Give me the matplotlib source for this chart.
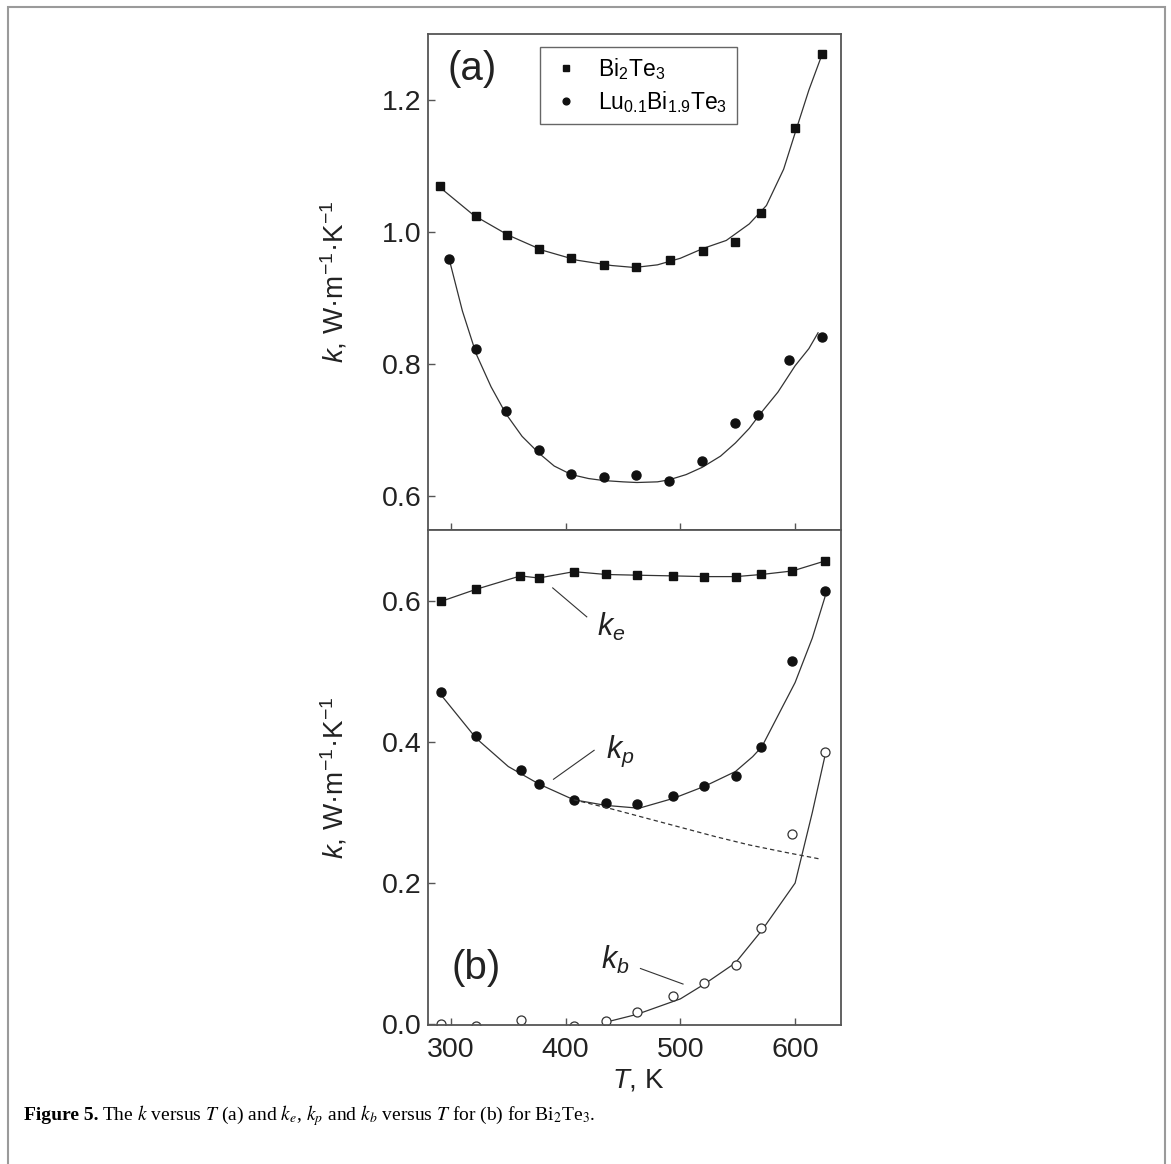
import matplotlib
matplotlib.use("Agg")
import matplotlib.pyplot as plt
from matplotlib.patches import Rectangle
from matplotlib.ticker import FormatStrFormatter


# Panel (a): total thermal conductivity k(T)
temp_bi2te3 = [290.3, 321.9, 348.7, 376.5, 404.8, 433.5, 461.6, 490.6, 519.4, 547.7, 570.6, 600.0, 623.2]
k_bi2te3 = [1.070, 1.024, 0.996, 0.974, 0.960, 0.950, 0.947, 0.958, 0.971, 0.985, 1.029, 1.158, 1.269]
temp_lu = [298.7, 321.9, 348.4, 376.8, 404.8, 433.2, 461.3, 490.3, 518.7, 547.7, 567.7, 594.8, 623.2]
k_lu = [0.959, 0.823, 0.729, 0.669, 0.633, 0.629, 0.631, 0.623, 0.653, 0.710, 0.722, 0.805, 0.840]

# fitted curves of panel (a)
fit_temp_bi2te3 = [290, 320, 350, 380, 410, 440, 460, 480, 500, 520, 540, 560, 575, 590, 600, 612, 622]
fit_k_bi2te3 = [1.068, 1.025, 0.995, 0.972, 0.957, 0.949, 0.946, 0.950, 0.960, 0.975, 0.987,
                1.012, 1.040, 1.095, 1.150, 1.215, 1.262]
fit_temp_lu = [299, 310, 322, 335, 348, 362, 377, 390, 405, 420, 433, 450, 462, 480, 490, 505,
               519, 535, 548, 560, 570, 585, 600, 612, 620]
fit_k_lu = [0.955, 0.880, 0.815, 0.765, 0.724, 0.690, 0.664, 0.645, 0.632, 0.626, 0.623, 0.621,
            0.620, 0.621, 0.624, 0.632, 0.643, 0.660, 0.680, 0.702, 0.725, 0.757, 0.797, 0.823, 0.847]

# Panel (b): electronic, phonon and bipolar parts
temp_ke = [291.6, 321.9, 360.6, 376.5, 407.1, 435.2, 462.3, 493.9, 521.0, 548.4, 570.6, 597.7, 625.8]
k_e = [0.599, 0.616, 0.635, 0.632, 0.641, 0.637, 0.636, 0.635, 0.634, 0.634, 0.637, 0.642, 0.656]
temp_kp = [291.6, 321.9, 361.3, 377.1, 407.1, 435.2, 462.3, 493.9, 521.0, 548.4, 570.6, 597.7, 626.1]
k_p = [0.471, 0.408, 0.360, 0.341, 0.318, 0.313, 0.312, 0.323, 0.337, 0.352, 0.393, 0.515, 0.613]
temp_kb = [291.6, 321.9, 361.3, 407.1, 435.2, 462.3, 493.9, 521.0, 548.4, 570.6, 597.7, 626.1]
k_b = [0.001, -0.003, 0.006, -0.002, 0.004, 0.018, 0.040, 0.059, 0.084, 0.137, 0.270, 0.385]

fit_temp_kp = [291.6, 322, 350, 377, 407, 435, 464, 494, 521, 548, 563, 571, 600, 615, 626]
fit_k_p = [0.466, 0.405, 0.365, 0.340, 0.318, 0.310, 0.306, 0.320, 0.337, 0.358, 0.379, 0.393,
           0.484, 0.547, 0.605]
dash_temp = [407, 440, 470, 500, 530, 560, 590, 622]
dash_k = [0.318, 0.305, 0.292, 0.279, 0.266, 0.254, 0.244, 0.234]
fit_temp_kb = [435, 462, 500, 521, 548, 571, 600, 615, 626]
fit_k_b = [0.003, 0.014, 0.036, 0.057, 0.087, 0.133, 0.200, 0.300, 0.380]

x_ticks = [300, 400, 500, 600]
y_ticks_a = [0.6, 0.8, 1.0, 1.2]
y_ticks_b = [0.0, 0.2, 0.4, 0.6]

SPINE = "#555555"
LINE = "#333333"
MARK = "#111111"
TEXT = "#222222"
TICK_FS = 20.5


def style_axes(ax):
    # thin grey frame and short inward ticks, as in the paper figure
    for spine in ax.spines.values():
        spine.set_color(SPINE)
        spine.set_linewidth(1.3)
    ax.tick_params(direction="in", length=5, width=1.0, color=SPINE,
                   labelsize=TICK_FS, labelcolor=TEXT)
    ax.tick_params(axis="x", pad=8.5)
    ax.tick_params(axis="y", pad=4.5)
    ax.yaxis.set_major_formatter(FormatStrFormatter("%.1f"))
    ax.set_ylabel("$k$, W·m$^{-1}$·K$^{-1}$", fontsize=20, color=TEXT)
    ax.yaxis.set_label_coords(-0.19, 0.5)


def draw_panel_a(ax):
    ax.plot(fit_temp_bi2te3, fit_k_bi2te3, color=LINE, lw=0.9)
    ax.plot(fit_temp_lu, fit_k_lu, color=LINE, lw=0.9)
    ax.plot(temp_bi2te3, k_bi2te3, "s", color=MARK, ms=6, ls="none", label=r"Bi$_2$Te$_3$")
    ax.plot(temp_lu, k_lu, "o", color=MARK, ms=6.5, ls="none", label=r"Lu$_{0.1}$Bi$_{1.9}$Te$_3$")
    ax.set_xlim(280, 640)
    ax.set_ylim(0.548, 1.30)
    ax.set_xticks(x_ticks)
    ax.set_yticks(y_ticks_a)
    ax.tick_params(axis="x", labelbottom=False)
    style_axes(ax)
    ax.text(318.4, 1.247, "(a)", fontsize=29, ha="center", va="center", color=TEXT)
    leg = ax.legend(loc="upper left", bbox_to_anchor=(0.271, 0.974), borderaxespad=0,
                    fontsize=16.5, fancybox=False, edgecolor="#666666", framealpha=1,
                    markerscale=0.75, handlelength=1.5, handletextpad=0.65,
                    labelspacing=0.3, borderpad=0.4)
    leg.get_frame().set_linewidth(1.0)


def draw_panel_b(ax):
    ax.plot(temp_ke, k_e, "s-", color=LINE, mfc=MARK, mec=MARK, ms=6, lw=0.9)
    ax.plot(fit_temp_kp, fit_k_p, color=LINE, lw=0.9)
    ax.plot(temp_kp, k_p, "o", color=MARK, ms=6.5)
    ax.plot(dash_temp, dash_k, "--", color=LINE, lw=0.9, dashes=(3.5, 2.5))
    ax.plot(fit_temp_kb, fit_k_b, color=LINE, lw=0.9)
    ax.plot(temp_kb, k_b, "o", mfc="white", mec=LINE, mew=0.9, ms=6.5)
    ax.set_xlim(280, 640)
    ax.set_ylim(-0.001, 0.70)
    ax.set_xticks(x_ticks)
    ax.set_yticks(y_ticks_b)
    style_axes(ax)
    ax.set_xlabel(r"$T$, K", fontsize=20, color=TEXT)
    ax.xaxis.set_label_coords(0.51, -0.085)

    # component labels with short leader lines
    ax.plot([388.7, 418.4], [0.618, 0.577], color=LINE, lw=0.8)
    ax.text(440.0, 0.5625, r"$k_e$", fontsize=22, ha="center", va="center", color=TEXT)
    ax.plot([389.4, 424.8], [0.347, 0.388], color=LINE, lw=0.8)
    ax.text(447.4, 0.386, r"$k_p$", fontsize=22, ha="center", va="center", color=TEXT)
    ax.plot([465.2, 502.3], [0.079, 0.057], color=LINE, lw=0.8)
    ax.text(442.9, 0.091, r"$k_b$", fontsize=22, ha="center", va="center", color=TEXT)
    ax.text(321.8, 0.080, "(b)", fontsize=29, ha="center", va="center", color=TEXT)


def draw_caption(fig):
    renderer = fig.canvas.get_renderer()
    y = 1 - 1116 / 1164
    head = fig.text(24 / 1171, y, "Figure 5.", fontsize=14, fontweight="bold",
                    family="Liberation Serif", va="center")
    bbox = head.get_window_extent(renderer)
    x = (bbox.x1 + 4) / fig.bbox.width
    fig.text(x, y, r"The $k$ versus $T$ (a) and $k_e$, $k_p$ and $k_b$ versus $T$ for (b) "
                   r"for Bi$_2$Te$_3$.",
             fontsize=14, family="Liberation Serif", math_fontfamily="stix", va="center")


def main():
    plt.rcParams["font.family"] = ["Liberation Sans", "DejaVu Sans"]
    plt.rcParams["mathtext.fontset"] = "custom"
    plt.rcParams["mathtext.rm"] = "Liberation Sans"
    plt.rcParams["mathtext.it"] = "Liberation Sans:italic"
    plt.rcParams["mathtext.bf"] = "Liberation Sans:bold"

    fig = plt.figure(figsize=(11.71, 11.64), dpi=100)
    left = 428 / 1171
    width = (841 - 428) / 1171
    ax_a = fig.add_axes([left, 1 - 530 / 1164, width, (530 - 34) / 1164])
    ax_b = fig.add_axes([left, 1 - 1025 / 1164, width, (1025 - 530) / 1164])

    draw_panel_a(ax_a)
    draw_panel_b(ax_b)

    # grey page frame around the figure
    fig.patches.append(Rectangle((8 / 1171, -0.01), (1165 - 8) / 1171, 1.01 - 7 / 1164,
                                 transform=fig.transFigure, fill=False,
                                 edgecolor="#9a9a9a", lw=1.5))
    draw_caption(fig)
    fig.savefig("out.png", dpi=100)
    plt.close(fig)


if __name__ == "__main__":
    main()
